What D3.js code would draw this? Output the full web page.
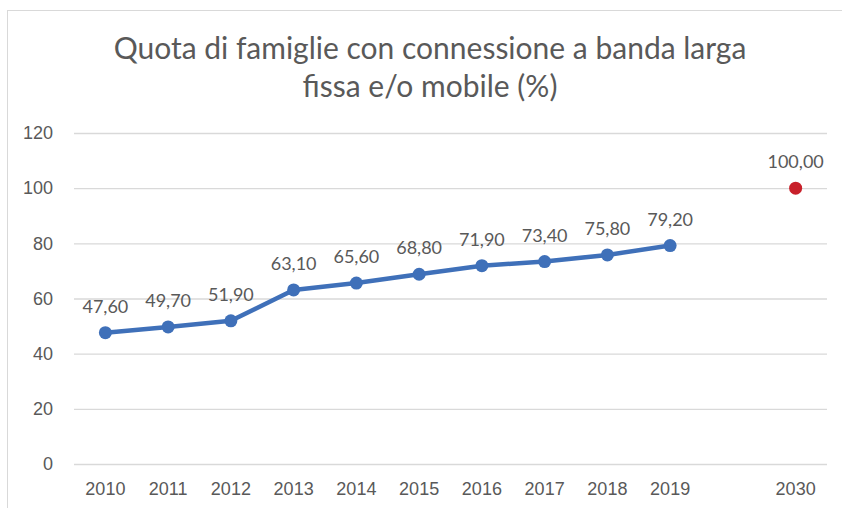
<!DOCTYPE html>
<html>
<head>
<meta charset="utf-8">
<script src="https://cdn.jsdelivr.net/npm/d3@7"></script>
<style>
  body { margin: 0; background: #fff; }
  svg { display: block; font-family: "Gill Sans", Lato, "Open Sans", sans-serif; }
</style>
</head>
<body>
<svg id="chart"></svg>
<script>
const categories = ['2010', '2011', '2012', '2013', '2014', '2015', '2016', '2017', '2018', '2019', '', '2030'];
const historyYears = ['2010', '2011', '2012', '2013', '2014', '2015', '2016', '2017', '2018', '2019'];
const historyValues = [47.6, 49.7, 51.9, 63.1, 65.6, 68.8, 71.9, 73.4, 75.8, 79.2];
const targetYears = ['2030'];
const targetValues = [100];
const yTicks = [0, 20, 40, 60, 80, 100, 120];
const titleLines = ['Quota di famiglie con connessione a banda larga', 'fissa e/o mobile (%)'];

const WIDTH = 842;
const HEIGHT = 508;
const margin = { top: 133, right: 15, bottom: 44, left: 74 };
const TEXT_COLOR = '#595959';

const itFormat = d3.formatLocale({ decimal: ',', thousands: '.', grouping: [3], currency: ['€', ''] }).format(',.2f');

const svg = d3.select('#chart')
    .attr('width', WIDTH)
    .attr('height', HEIGHT);

// chart frame
svg.append('rect')
    .attr('x', 7.5)
    .attr('y', 10.5)
    .attr('width', WIDTH)
    .attr('height', HEIGHT)
    .attr('fill', '#fff')
    .attr('stroke', '#d9d9d9');

svg.append('g')
    .selectAll('text')
    .data(titleLines)
    .join('text')
    .attr('x', 430)
    .attr('y', (d, i) => 59 + i * 38)
    .attr('text-anchor', 'middle')
    .attr('fill', TEXT_COLOR)
    .attr('font-size', 30)
    .text(d => d);

const x = d3.scaleBand()
    .domain(categories)
    .range([margin.left, WIDTH - margin.right]);

const y = d3.scaleLinear()
    .domain([0, 120])
    .range([HEIGHT - margin.bottom, margin.top]);

// gridlines + y labels
const yAxis = svg.append('g')
    .attr('transform', `translate(${margin.left},0)`)
    .call(d3.axisLeft(y).tickValues(yTicks).tickSize(-(WIDTH - margin.right - margin.left)).tickPadding(21));
yAxis.select('.domain').remove();
yAxis.selectAll('line').attr('stroke', '#d9d9d9').attr('stroke-width', 1.3);
yAxis.selectAll('text').attr('fill', TEXT_COLOR).attr('font-size', 18).attr('font-family', null);

// x labels
const xAxis = svg.append('g')
    .attr('transform', `translate(0,${HEIGHT - margin.bottom})`)
    .call(d3.axisBottom(x).tickSize(0).tickPadding(18));
xAxis.select('.domain').remove();
xAxis.selectAll('text').attr('fill', TEXT_COLOR).attr('font-size', 18).attr('font-family', null);

const cx = d => x(d) + x.bandwidth() / 2;
const history = historyYears.map((year, i) => ({ year, value: historyValues[i] }));
const target = targetYears.map((year, i) => ({ year, value: targetValues[i] }));

svg.append('path')
    .datum(history)
    .attr('fill', 'none')
    .attr('stroke', '#3f70b9')
    .attr('stroke-width', 4.5)
    .attr('stroke-linejoin', 'round')
    .attr('d', d3.line().x(d => cx(d.year)).y(d => y(d.value)));

svg.append('g')
    .selectAll('circle')
    .data(history)
    .join('circle')
    .attr('cx', d => cx(d.year))
    .attr('cy', d => y(d.value))
    .attr('r', 6.5)
    .attr('fill', '#3f70b9');

svg.append('g')
    .selectAll('circle')
    .data(target)
    .join('circle')
    .attr('cx', d => cx(d.year))
    .attr('cy', d => y(d.value))
    .attr('r', 6.5)
    .attr('fill', '#c8202a');

// data labels
svg.append('g')
    .selectAll('text')
    .data(history.concat(target))
    .join('text')
    .attr('x', d => cx(d.year))
    .attr('y', d => y(d.value) - 20)
    .attr('text-anchor', 'middle')
    .attr('fill', TEXT_COLOR)
    .attr('font-size', 18)
    .text(d => itFormat(d.value));
</script>
</body>
</html>
